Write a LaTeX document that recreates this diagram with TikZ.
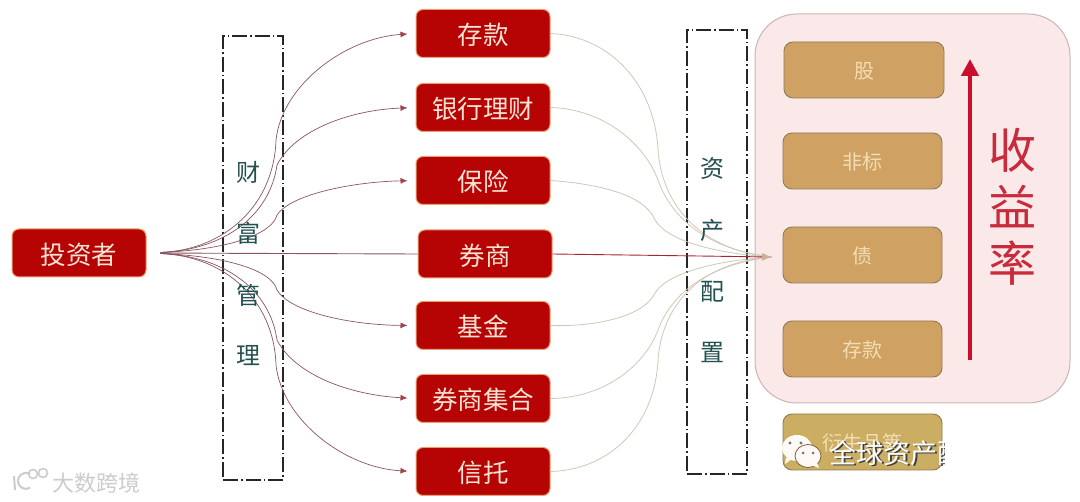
\documentclass[tikz,border=0pt]{standalone}
\usepackage{fontspec}
\setmainfont{Noto Sans CJK SC}
\usetikzlibrary{arrows.meta}
\definecolor{boxred}{HTML}{B60404}
\definecolor{halo}{HTML}{E8A070}
\definecolor{redtxt}{HTML}{F8E4D4}
\definecolor{tealtxt}{HTML}{235050}
\definecolor{linkl}{HTML}{8A5560}
\definecolor{linkr}{HTML}{CFC8B8}
\definecolor{pinkfill}{HTML}{FBE8E8}
\definecolor{pinkline}{HTML}{C9B6B4}
\definecolor{goldfill}{HTML}{CFA263}
\definecolor{goldfive}{HTML}{CBAE62}
\definecolor{goldline}{HTML}{8E7B56}
\definecolor{goldtxt}{HTML}{F4DDB4}
\definecolor{ratered}{HTML}{C92A3C}
\definecolor{arrowred}{HTML}{C8102E}
\tikzset{
  x=1pt,y=-1pt,
  redbox/.style={draw=halo,line width=1pt,fill=boxred,rounded corners=7pt,minimum width=134pt,minimum height=48pt,inner sep=0pt,text=redtxt,text height=25pt,text depth=2pt,font=\fontsize{25.5}{26}\selectfont},
  goldbox/.style={draw=goldline,line width=0.9pt,fill=goldfill,rounded corners=9pt,minimum width=159pt,minimum height=56pt,inner sep=0pt,text=goldtxt,text height=20pt,text depth=2pt,font=\fontsize{20}{20}\selectfont},
  dashbox/.style={draw=black!85,line width=1.1pt,dash pattern=on 15pt off 3pt on 1.5pt off 3pt,minimum width=60pt,minimum height=444pt,inner sep=0pt},
  vchar/.style={text=tealtxt,font=\fontsize{24}{24}\selectfont,inner sep=0pt},
  ratechar/.style={text=ratered,font=\fontsize{48}{48}\selectfont,inner sep=0pt},
  linkin/.style={draw=linkl,line width=0.7pt,shorten <=14pt,shorten >=8pt,-{Latex[length=7pt,width=6pt,color=linkl!80!red]}},
  linkout/.style={draw=linkr,line width=0.8pt},
}
\begin{document}
\begin{tikzpicture}
\useasboundingbox (0,0) rectangle (1080,502);
\fill[white] (0,0) rectangle (1080,502);
% dashed frames
\node[dashbox] (wealth) at (253,258) {};
\node[dashbox] (alloc) at (717,252) {};
% pink panel
\node[draw=pinkline,line width=1pt,fill=pinkfill,rounded corners=42pt,minimum width=315pt,minimum height=389pt,inner sep=0pt] (panel) at (912.5,208.5) {};
% nodes
\node[redbox] (inv) at (79,253) {投资者};
\node[redbox] (n1) at (483,33.5) {存款};
\node[redbox] (n2) at (483,107.5) {银行理财};
\node[redbox] (n3) at (483,180.5) {保险};
\node[redbox] (n4) at (485,254) {券商};
\node[redbox] (n5) at (483,325.5) {基金};
\node[redbox] (n6) at (483,398.5) {券商集合};
\node[redbox] (n7) at (483,471.5) {信托};
\coordinate (hub) at (772,257);
% left connectors
\draw[linkin] (inv.east) .. controls (225,250) and (274,205) .. (276,140) .. controls (282,85) and (345,38) .. (n1.west);
\draw[linkin] (inv.east) .. controls (225,250) and (270,215) .. (277,165) .. controls (295,130) and (350,110) .. (n2.west);
\draw[linkin] (inv.east) .. controls (225,250) and (272,235) .. (277,215) .. controls (290,195) and (350,182) .. (n3.west);
\draw[draw=linkl,line width=0.9pt,shorten <=14pt] (inv.east) -- (n4.west);
\draw[linkin] (inv.east) .. controls (225,256) and (272,270) .. (277,290) .. controls (290,312) and (350,325) .. (n5.west);
\draw[linkin] (inv.east) .. controls (225,256) and (270,290) .. (277,340) .. controls (295,375) and (350,395) .. (n6.west);
\draw[linkin] (inv.east) .. controls (225,256) and (274,300) .. (276,365) .. controls (282,420) and (345,468) .. (n7.west);
% right connectors
\draw[linkout] (n1.east) .. controls (610,36) and (655,85) .. (658,150) .. controls (662,205) and (700,250) .. (hub);
\draw[linkout] (n2.east) .. controls (605,109) and (645,145) .. (658,180) .. controls (672,220) and (710,250) .. (hub);
\draw[linkout] (n3.east) .. controls (600,184) and (645,195) .. (655,220) .. controls (668,242) and (720,254) .. (hub);
\draw[linkout] (n5.east) .. controls (600,327) and (645,315) .. (655,293) .. controls (668,272) and (720,260) .. (hub);
\draw[linkout] (n6.east) .. controls (605,398) and (645,365) .. (658,330) .. controls (672,292) and (710,264) .. (hub);
\draw[linkout] (n7.east) .. controls (610,470) and (655,425) .. (658,360) .. controls (662,305) and (700,262) .. (hub);
\draw[draw=ratered!85!black,line width=0.9pt,-{Latex[length=10pt,width=8pt,color=linkr!70!brown]}] (n4.east) -- (hub);
% frame labels
\node[vchar] (w1) at (248,172) {财};
\node[vchar] (w2) at (248,233) {富};
\node[vchar] (w3) at (248,295) {管};
\node[vchar] (w4) at (248,356) {理};
\node[vchar] (a1) at (712,168) {资};
\node[vchar] (a2) at (712,230) {产};
\node[vchar] (a3) at (712,292) {配};
\node[vchar] (a4) at (712,352) {置};
% gold boxes
\node[goldbox,minimum width=160pt] (g1) at (864,70) {股};
\node[goldbox] (g2) at (862.5,161) {非标};
\node[goldbox] (g3) at (862.5,255) {债};
\node[goldbox] (g4) at (862.5,349) {存款};
\node[goldbox,fill=goldfive] (g5) at (862.5,442) {衍生品等};
% yield arrow
\coordinate (ybot) at (970,360);
\coordinate (ytop) at (970,59);
\draw[arrowred,line width=4.5pt,-{Triangle[length=17pt,width=17pt]}] (ybot) -- (ytop);
\node[ratechar] (r1) at (1012,150) {收};
\node[ratechar] (r2) at (1012,207) {益};
\node[ratechar] (r3) at (1012,263) {率};
% WeChat watermark
\begin{scope}
\clip (770,420) rectangle (944,480);
\node[text=black!75,font=\fontsize{27}{27}\selectfont,inner sep=0pt,anchor=west] at (831,454) {全球资产配};
\node[text=white,font=\fontsize{27}{27}\selectfont,inner sep=0pt,anchor=west] at (829.5,453) {全球资产配};
\end{scope}
\fill[white!95!brown] (797,448) ellipse (15pt and 13pt);
\fill[white!95!brown] (786,458) -- (793,458) -- (785,464) -- cycle;
\fill[black!55] (790,443) circle (1.6pt) (801,443) circle (1.6pt);
\draw[goldfill!60!black,line width=0.8pt,fill=white!95!brown] (808,456) ellipse (13pt and 11.5pt);
\fill[white!95!brown] (811,465) -- (819,468) -- (816,460) -- cycle;
\fill[black!55] (803,453) circle (1.5pt) (813,453) circle (1.5pt);
% bottom-left watermark
\node[text=black!20,font=\fontsize{22}{22}\selectfont,inner sep=0pt,anchor=west] (wm) at (52,483) {大数跨境};
\draw[black!20,line width=2pt] (14,476) -- (15,490);
\draw[black!20,line width=2pt] (30,474) arc (60:300:8pt);
\draw[black!20,line width=1.6pt] (33,474) circle (4.5pt) (43,473) circle (4.5pt);
\end{tikzpicture}
\end{document}
